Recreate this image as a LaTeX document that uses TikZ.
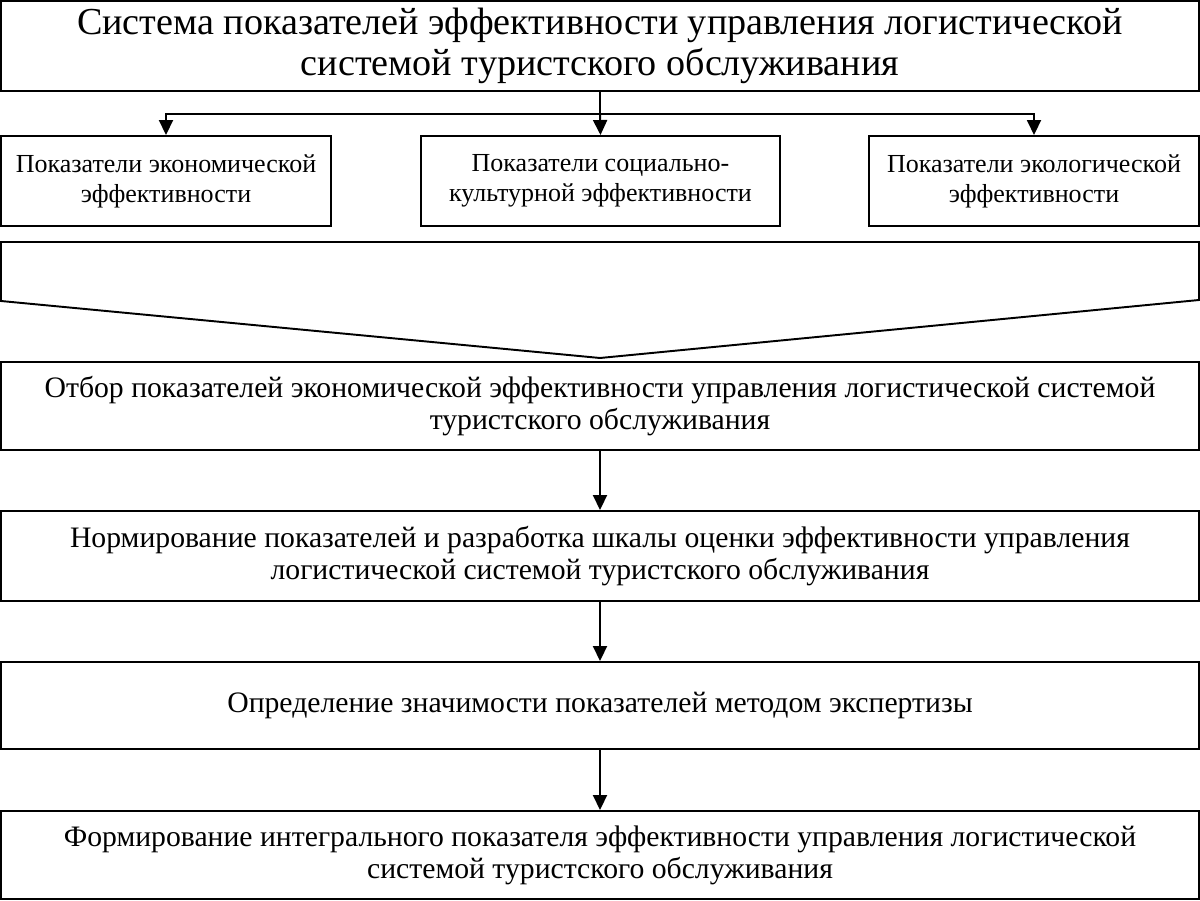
\documentclass[tikz,border=0pt]{standalone}
\usepackage{fontspec}
\setmainfont{Liberation Serif}
\usetikzlibrary{arrows.meta}
\begin{document}
\begin{tikzpicture}[x=0.2mm,y=-0.2mm,
  line width=1.1pt,
  box/.style={draw, line width=1.1pt, align=center, inner sep=0pt, minimum height=18mm},
  titlefont/.style={font=\fontsize{21.7}{23.3}\selectfont},
  smallfont/.style={font=\fontsize{14.8}{17}\selectfont},
  stepfont/.style={font=\fontsize{16.9}{18.2}\selectfont},
  arr/.style={-{Triangle[length=3mm,width=2.8mm]}}
]
\useasboundingbox (0,0) rectangle (1200,901);
\node[box, titlefont, minimum width=239.6mm] (title) at (600,46)
  {Система показателей эффективности управления логистической\\системой туристского обслуживания};
\node[box, smallfont, minimum width=66mm] (b1) at (166,181)
  {Показатели экономической\\эффективности};
\node[box, smallfont, minimum width=71.8mm] (b2) at (600.5,181)
  {Показатели социально-\\культурной эффективности};
\node[box, smallfont, minimum width=66mm] (b3) at (1034,181)
  {Показатели экологической\\эффективности};
\coordinate (j) at (600,114);
\draw (title.south) -- (j);
\draw[arr] (j) -| (b1.north);
\draw[arr] (j) -- (b2.north);
\draw[arr] (j) -| (b3.north);
\draw (1,242) -- (1199,242) -- (1199,300) -- (600,358) -- (1,301) -- cycle;
\node[box, stepfont, minimum width=239.6mm, minimum height=17.6mm] (s1) at (600,406)
  {Отбор показателей экономической эффективности управления логистической системой\\туристского обслуживания};
\node[box, stepfont, minimum width=239.6mm] (s2) at (600,556)
  {Нормирование показателей и разработка шкалы оценки эффективности управления\\логистической системой туристского обслуживания};
\node[box, stepfont, minimum width=239.6mm, minimum height=17.4mm] (s3) at (600,705.5)
  {Определение значимости показателей методом экспертизы};
\node[box, stepfont, minimum width=239.6mm, minimum height=17.6mm] (s4) at (600,855)
  {Формирование интегрального показателя эффективности управления логистической\\системой туристского обслуживания};
\draw[arr] (s1) -- (s2);
\draw[arr] (s2) -- (s3);
\draw[arr] (s3) -- (s4);
\end{tikzpicture}
\end{document}
